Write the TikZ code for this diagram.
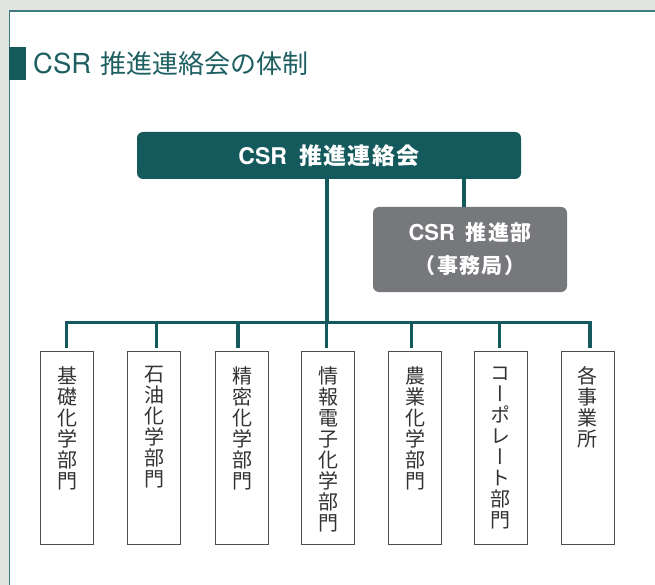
\documentclass[tikz,border=0pt]{standalone}
\usepackage{fontspec}
\setmainfont{Noto Sans CJK JP}
\newfontfamily\jp{Noto Sans CJK JP}
\newfontfamily\jpsp[LetterSpace=6]{Noto Sans CJK JP}
\newfontfamily\heros{TeX Gyre Heros}
\newfontfamily\vjp[RawFeature=+vert]{Noto Sans CJK JP}
\definecolor{bgcol}{HTML}{E0E5E1}
\definecolor{bordercol}{HTML}{3F7B7C}
\definecolor{tealdark}{HTML}{145A5C}
\definecolor{titlecol}{HTML}{1E5F61}
\definecolor{graybox}{HTML}{77787B}
\definecolor{boxline}{HTML}{4D4D4D}
\definecolor{vtext}{HTML}{333333}
\tikzset{
  topbox/.style={fill=tealdark, rounded corners=6pt, minimum width=384pt, minimum height=47pt,
    text=white, inner sep=0pt},
  secbox/.style={fill=graybox, rounded corners=6pt, minimum width=194pt, minimum height=85pt,
    text=white, align=center, inner sep=0pt, font=\fontsize{21}{33}\selectfont},
  deptbox/.style={draw=boxline, line width=1pt, fill=white, minimum width=53pt, minimum height=193pt, inner sep=0pt},
  depttext/.style={anchor=north, align=center, text=vtext, inner sep=0pt,
    font=\vjp\fontsize{20}{21}\selectfont},
  conn/.style={draw=tealdark, line width=3.3pt}
}
\begin{document}
\begin{tikzpicture}[x=1pt,y=-1pt]
\useasboundingbox (0,0) rectangle (655,585);
\fill[bgcol] (0,0) rectangle (655,585);
\fill[white] (9,10) rectangle (655,585);
\draw[bordercol, line width=1.6pt] (9.5,585) -- (9.5,10.8) -- (655,10.8);
% title
\fill[tealdark] (9,47) rectangle (26,80);
\node[anchor=base west, text=titlecol, inner sep=0pt] (title) at (33,73.5)
  {{\heros\fontsize{27.5}{32}\selectfont CSR}\hspace{9pt}{\jp\fontsize{26}{32}\selectfont 推進連絡会の体制}};
% top boxes
\node[topbox] (council) at (329,155.5)
  {{\heros\bfseries\fontsize{23}{26}\selectfont CSR}\hspace{12pt}{\jpsp\bfseries\fontsize{23}{26}\selectfont 推進連絡会}};
\node[secbox] (office) at (470,249.5)
  {{\heros\bfseries\fontsize{22}{33}\selectfont CSR}\hspace{11pt}{\jpsp\bfseries 推進部}\\
   {\jpsp\bfseries （事務局）}};
% department boxes
\node[deptbox] (b1) at (67,448.3) {};
\node[deptbox] (b2) at (154,448.3) {};
\node[deptbox] (b3) at (242.2,448.3) {};
\node[deptbox] (b4) at (328.3,448.3) {};
\node[deptbox] (b5) at (415,448.3) {};
\node[deptbox] (b6) at (500.7,448.3) {};
\node[deptbox] (b7) at (587.5,448.3) {};
\node[depttext] (t1) at ([yshift=-15pt]b1.north) {基\\礎\\化\\学\\部\\門};
\node[depttext] (t2) at ([yshift=-15pt]b2.north) {石\\油\\化\\学\\部\\門};
\node[depttext] (t3) at ([yshift=-15pt]b3.north) {精\\密\\化\\学\\部\\門};
\node[depttext] (t4) at ([yshift=-15pt]b4.north) {情\\報\\電\\子\\化\\学\\部\\門};
\node[depttext] (t5) at ([yshift=-15pt]b5.north) {農\\業\\化\\学\\部\\門};
\node[depttext] (t6) at ([yshift=-15pt]b6.north) {コ\\ー\\ポ\\レ\\ー\\ト\\部\\門};
\node[depttext] (t7) at ([yshift=-15pt]b7.north) {各\\事\\業\\所};
% connectors
\coordinate (bus) at (0,322.5);
\draw[conn] ([xshift=-2pt]council.south) -- ([xshift=-2pt]council.south |- bus);
\draw[conn] ([xshift=-6pt]office.north) -- ([xshift=-6pt]office.north |- council.south);
\draw[conn, line join=miter] ([xshift=-0.3pt,yshift=3.5pt]b1.north) -- ([xshift=-0.3pt]b1.north |- bus)
   -- ([xshift=2.5pt]b7.north |- bus) -- ([xshift=2.5pt,yshift=3.5pt]b7.north);
\draw[conn] ([xshift=2.7pt]b2.north |- bus) -- ([xshift=2.7pt,yshift=3.5pt]b2.north);
\draw[conn] ([xshift=-4.2pt]b3.north |- bus) -- ([xshift=-4.2pt,yshift=3.5pt]b3.north);
\draw[conn] ([xshift=-1.6pt]b4.north |- bus) -- ([xshift=-1.6pt,yshift=3.5pt]b4.north);
\draw[conn] ([xshift=-3.3pt]b5.north |- bus) -- ([xshift=-3.3pt,yshift=3.5pt]b5.north);
\draw[conn] ([xshift=-1.4pt]b6.north |- bus) -- ([xshift=-1.4pt,yshift=3.5pt]b6.north);
\end{tikzpicture}
\end{document}
